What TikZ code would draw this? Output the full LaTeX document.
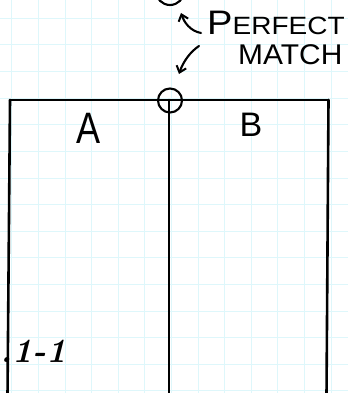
\documentclass[tikz,border=0pt]{standalone}
\usepackage{fontspec}
\newfontfamily\hand{Liberation Sans}
\usetikzlibrary{arrows.meta}
\definecolor{gridcol}{RGB}{222,247,251}
\tikzset{
  gridline/.style={draw=gridcol, line width=0.8pt},
  pen/.style={draw=black, line width=2.6pt, line cap=round, line join=round},
  thinpen/.style={draw=black, line width=2.1pt, line cap=round, line join=round},
  handtext/.style={inner sep=0pt, text=black},
  barb/.style={-{Straight Barb[length=6pt,width=10pt,line width=2pt]}}
}
\begin{document}
\begin{tikzpicture}[x=1pt,y=-1pt]
\useasboundingbox (0,0) rectangle (348,393);
\clip (0,0) rectangle (348,393);
\fill[white] (0,0) rectangle (348,393);
% grid paper
\foreach \i in {0,...,13} \draw[gridline] ({11.7+26.6*\i},0) -- ++(0,393);
\foreach \j in {0,...,14} \draw[gridline] (0,{18.3+26.6*\j}) -- ++(348,0);
% frame
\coordinate (tl) at (10,100);
\coordinate (tr) at (328.5,100);
\coordinate (bl) at (7.5,396);
\coordinate (tm) at (169,100);
\coordinate (bm) at (169,396);
\coordinate (br) at (326.5,396);
\draw[pen] (tl) -- (tr);
\draw[pen] (tl) -- (bl);
\draw[pen] (tm) -- (bm);
\draw[pen] (tr) -- (br);
% joint circle
\node[circle, thinpen, minimum size=24pt, inner sep=0pt] (joint) at (170,100.5) {};
% top partial circle
\node[circle, thinpen, minimum size=28pt, inner sep=0pt] (topcirc) at (170,-9) {};
% labels
\node[handtext, font=\hand\fontsize{44}{44}\selectfont, xscale=0.82] (lblA) at (88.5,128) {A};
\node[handtext, font=\hand\fontsize{34}{34}\selectfont] (lblB) at (251,125) {B};
\node[handtext, anchor=base west, xscale=1.12] (perfect) at (207,35)
  {\hand{\fontsize{34}{34}\selectfont P}{\fontsize{25}{25}\selectfont ERFECT}};
\node[handtext, anchor=base west, xscale=1.05, font=\hand\fontsize{28.5}{28.5}\selectfont] (match) at (238,65) {MATCH};
% arrows
\coordinate (a1s) at (201,33);
\coordinate (a1e) at (181,13);
\coordinate (a2s) at (199,46);
\coordinate (a2e) at (179,74);
\draw[thinpen, barb] (a1s) .. controls (190,31) and (184,22) .. (a1e);
\draw[thinpen, barb] (a2s) .. controls (190,52) and (183,62) .. (a2e);
% figure number
\node[handtext, anchor=base west, font=\fontsize{34}{34}\selectfont\bfseries\itshape] (fig) at (0.5,362) {.1-1};
\end{tikzpicture}
\end{document}
